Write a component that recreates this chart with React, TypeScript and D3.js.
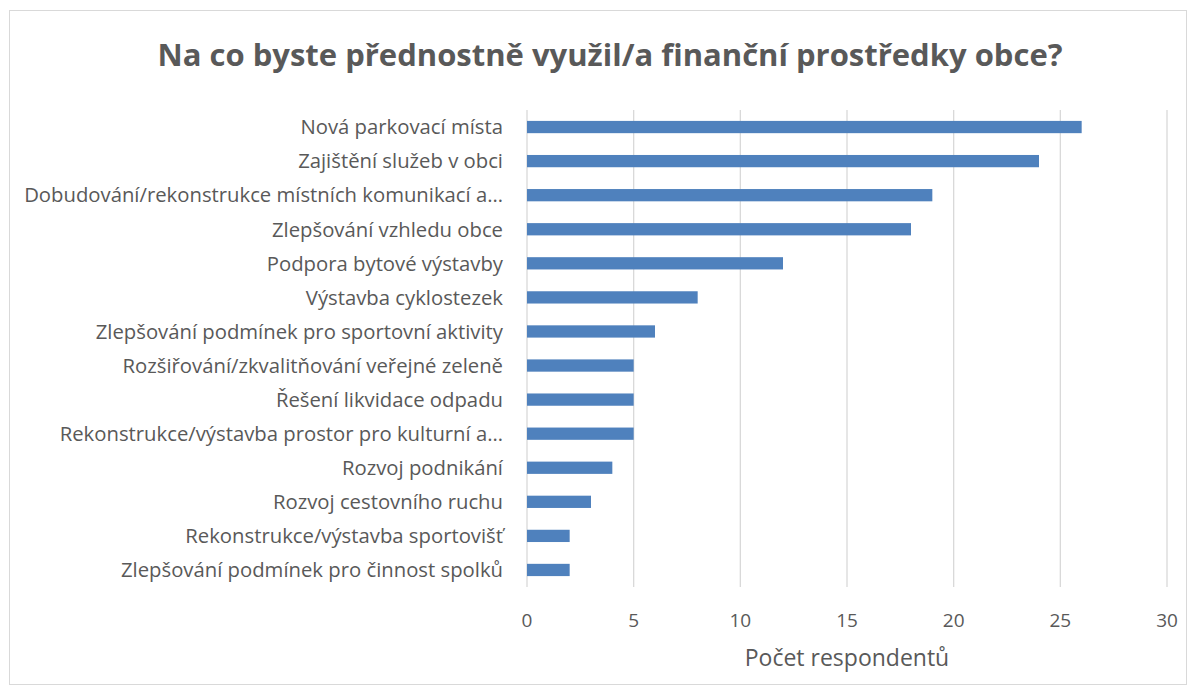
import React from "react";
import * as d3 from "d3";

const categories = [
  "Nová parkovací místa",
  "Zajištění služeb v obci",
  "Dobudování/rekonstrukce místních komunikací a…",
  "Zlepšování vzhledu obce",
  "Podpora bytové výstavby",
  "Výstavba cyklostezek",
  "Zlepšování podmínek pro sportovní aktivity",
  "Rozšiřování/zkvalitňování veřejné zeleně",
  "Řešení likvidace odpadu",
  "Rekonstrukce/výstavba prostor pro kulturní a…",
  "Rozvoj podnikání",
  "Rozvoj cestovního ruchu",
  "Rekonstrukce/výstavba sportovišť",
  "Zlepšování podmínek pro činnost spolků",
];
const values = [26, 24, 19, 18, 12, 8, 6, 5, 5, 5, 4, 3, 2, 2];
const xTicks = [0, 5, 10, 15, 20, 25, 30];
const title = "Na co byste přednostně využil/a finanční prostředky obce?";
const xTitle = "Počet respondentů";

const W = 1197;
const H = 695;
const left = 527;
const right = 1167;
const top = 110;
const bottom = 587;
const font = "'Open Sans', 'Liberation Sans', sans-serif";
const textColor = "#595959";

export default function App() {
  const x = d3.scaleLinear().domain([0, 30]).range([left, right]);
  const y = d3.scaleBand<string>().domain(categories).range([top, bottom]).paddingInner(0.64).paddingOuter(0.32);
  return (
    <svg width={W} height={H} style={{ position: "absolute", left: 0, top: 0 }}>
      <rect x={0} y={0} width={W} height={H} fill="#ffffff" />
      <rect x={9.5} y={10.5} width={1177} height={674} fill="#ffffff" stroke="#d9d9d9" strokeWidth={1} />
      <text x={610} y={66} textAnchor="middle" fontFamily={font} fontWeight={700} fontSize={31} fill={textColor}>
        {title}
      </text>
      {xTicks.map((t) => (
        <g key={t}>
          <line x1={x(t)} x2={x(t)} y1={top} y2={bottom} stroke="#d9d9d9" strokeWidth={1.3} />
          <text x={x(t)} y={627} textAnchor="middle" fontFamily={font} fontSize={19} fill={textColor}>
            {t}
          </text>
        </g>
      ))}
      {categories.map((c, i) => (
        <g key={c}>
          <rect x={x(0)} y={y(c)!} width={x(values[i]) - x(0)} height={y.bandwidth()} fill="#4f81bd" />
          <text
            x={503}
            y={y(c)! + y.bandwidth() / 2}
            dy="0.36em"
            textAnchor="end"
            fontFamily={font}
            fontSize={20.3}
            fill={textColor}
          >
            {c}
          </text>
        </g>
      ))}
      <text x={847} y={666} textAnchor="middle" fontFamily={font} fontSize={23} fill={textColor}>
        {xTitle}
      </text>
    </svg>
  );
}
